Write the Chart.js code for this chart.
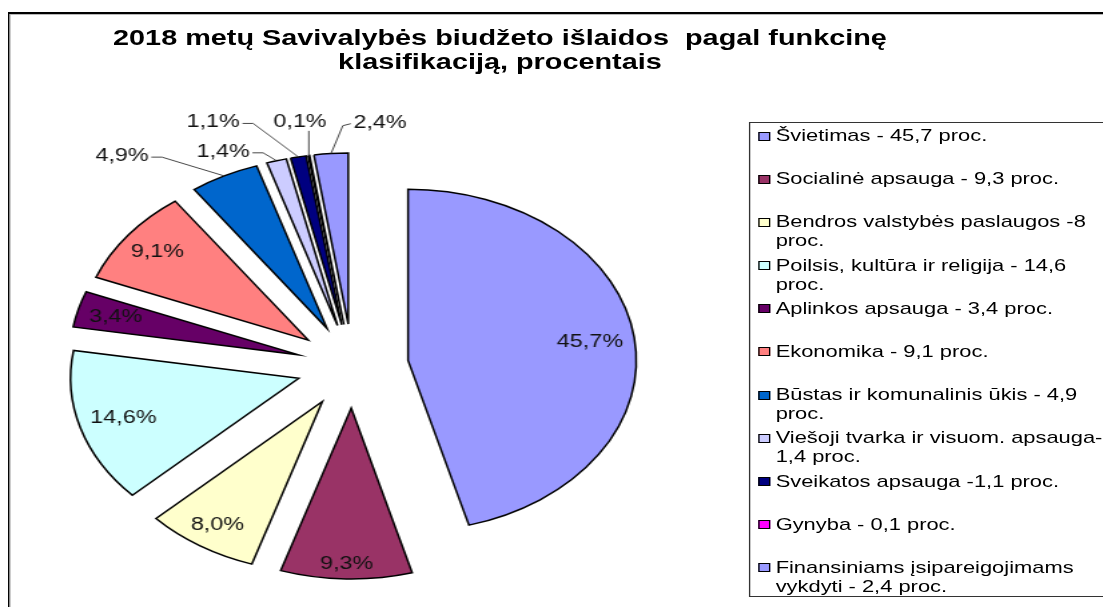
<!DOCTYPE html>
<html>
<head>
<meta charset="utf-8">
<script src="https://cdn.jsdelivr.net/npm/chart.js@4.4.1/dist/chart.umd.min.js"></script>
<style>
  html, body { margin: 0; padding: 0; background: #fff; overflow: hidden; }
  body { width: 1103px; height: 607px; position: relative; }
  #stage { position: absolute; left: 0; top: 0; width: 826.2px; height: 607px;
           transform: scaleX(1.335); transform-origin: 0 0; }
  #frame { position: absolute; left: 6px; top: 12px; width: 900px; height: 700px;
           border-left: 1.6px solid #000; border-top: 2px solid #000;
           box-shadow: inset 1px 1px 0 #b8b8b8; }
  #title { position: absolute; left: 24.5px; top: 26px; width: 700px; text-align: center;
           font-family: "Liberation Sans", Arial, sans-serif; font-weight: bold;
           font-size: 21.6px; line-height: 24px; color: #000; }
  #pieWrap { position: absolute; left: 23.7px; top: 106px; width: 480px; height: 520px; }
  #legend { position: absolute; left: 561px; top: 122px; width: 400px; height: 475px;
            border: 1px solid #333; box-sizing: border-box; padding-top: 3px;
            font-family: "Liberation Sans", Arial, sans-serif; font-size: 16.4px; color: #000; }
  .item { position: relative; height: 43.2px; line-height: 19px; }
  .sw { position: absolute; left: 6px; top: 5.5px; width: 7px; height: 7px; border: 1px solid #000; }
  .txt { position: absolute; left: 19px; top: 0; white-space: pre; }
</style>
</head>
<body>
<div id="stage">
  <div id="frame"></div>
  <div id="title">2018 metų Savivalybės biudžeto išlaidos&nbsp; pagal funkcinę<br>klasifikaciją, procentais</div>
  <div id="pieWrap"><canvas id="pie" width="480" height="520"></canvas></div>
  <div id="legend"></div>
</div>
<script>
// ---- data ----
const categories = [
  'Švietimas - 45,7 proc.',
  'Socialinė apsauga - 9,3 proc.',
  'Bendros valstybės paslaugos -8\nproc.',
  'Poilsis, kultūra ir religija - 14,6\nproc.',
  'Aplinkos apsauga - 3,4 proc.',
  'Ekonomika - 9,1 proc.',
  'Būstas ir komunalinis ūkis - 4,9\nproc.',
  'Viešoji tvarka ir visuom. apsauga-\n1,4 proc.',
  'Sveikatos apsauga -1,1 proc.',
  'Gynyba - 0,1 proc.',
  'Finansiniams įsipareigojimams\nvykdyti - 2,4 proc.'
];
const values = [45.7, 9.3, 8.0, 14.6, 3.4, 9.1, 4.9, 1.4, 1.1, 0.1, 2.4];

// ---- styles ----
const sliceColors = ['#9999FF', '#993366', '#FFFFCC', '#CCFFFF', '#660066', '#FF8080',
                     '#0066CC', '#CCCCFF', '#000080', '#FF00FF', '#9999FF'];

// legend (HTML, built from the same arrays)
const legendEl = document.getElementById('legend');
categories.forEach((c, i) => {
  const it = document.createElement('div'); it.className = 'item';
  const sw = document.createElement('span'); sw.className = 'sw'; sw.style.background = sliceColors[i];
  const tx = document.createElement('span'); tx.className = 'txt'; tx.textContent = c;
  it.appendChild(sw); it.appendChild(tx); legendEl.appendChild(it);
});

const EXPLODE = 42;
const LABEL_FONT = '17.5px "Liberation Sans", Arial, sans-serif';
// nudges for the crowded outside labels (label layout only)
const outsideNudge = { 6: [-63, 7], 7: [-32, 20], 8: [-58, -5], 9: [-2, -4], 10: [39, -1] };

const explodePlugin = {
  id: 'explode',
  beforeDatasetDraw(chart, args) {
    const ctx = chart.ctx;
    args.meta.data.forEach(arc => {
      const mid = (arc.startAngle + arc.endAngle) / 2;
      ctx.save();
      ctx.translate(Math.cos(mid) * EXPLODE, Math.sin(mid) * EXPLODE);
      arc.draw(ctx);
      ctx.restore();
    });
    return false;
  }
};

const labelPlugin = {
  id: 'sliceLabels',
  afterDatasetsDraw(chart) {
    const ctx = chart.ctx;
    const meta = chart.getDatasetMeta(0);
    ctx.save();
    ctx.font = LABEL_FONT;
    ctx.fillStyle = '#111';
    ctx.textAlign = 'center';
    ctx.textBaseline = 'middle';
    const h = 13;
    meta.data.forEach((arc, i) => {
      const v = values[i];
      const txt = v.toFixed(1).replace('.', ',') + '%';
      const w = ctx.measureText(txt).width;
      const mid = (arc.startAngle + arc.endAngle) / 2;
      const ux = Math.cos(mid), uy = Math.sin(mid);
      const cx = arc.x + ux * EXPLODE, cy = arc.y + uy * EXPLODE;
      const r = arc.outerRadius;
      const ext = Math.abs(ux) * w / 2 + Math.abs(uy) * h / 2;
      const d = r - 8 - ext;
      const perp = Math.abs(uy) * w + Math.abs(ux) * h;
      const chord = 2 * d * Math.sin((arc.endAngle - arc.startAngle) / 2);
      if (perp * 1.2 < chord) {
        ctx.fillText(txt, cx + ux * d, cy + uy * d);
      } else {
        const ax = cx + ux * r, ay = cy + uy * r;
        const nd = outsideNudge[i] || [0, 0];
        const lx = cx + ux * (r + 30) + nd[0];
        const ly = cy + uy * (r + 30) + nd[1];
        ctx.fillText(txt, lx, ly);
        ctx.beginPath();
        ctx.strokeStyle = '#333';
        ctx.lineWidth = 0.9;
        if (ax > lx - w / 2 && ax < lx + w / 2) {
          ctx.moveTo(ax, ly + 9);
          ctx.lineTo(ax, ay);
        } else if (ax > lx) {
          ctx.moveTo(lx + w / 2 + 2, ly + 1);
          ctx.lineTo(lx + w / 2 + 10, ly + 1);
          ctx.lineTo(ax, ay);
        } else {
          ctx.moveTo(lx - w / 2 - 2, ly + 1);
          ctx.lineTo(lx - w / 2 - 8, ly + 3);
          ctx.lineTo(ax, ay);
        }
        ctx.stroke();
      }
    });
    ctx.restore();
  }
};

new Chart(document.getElementById('pie'), {
  type: 'pie',
  data: {
    labels: categories,
    datasets: [{
      data: values,
      backgroundColor: sliceColors,
      borderColor: '#000',
      borderWidth: 1.5,
      borderJoinStyle: 'miter',
      radius: 171
    }]
  },
  options: {
    responsive: false,
    animation: false,
    layout: { padding: 0 },
    plugins: { legend: { display: false }, tooltip: { enabled: false }, title: { display: false } }
  },
  plugins: [explodePlugin, labelPlugin]
});
</script>
</body>
</html>
